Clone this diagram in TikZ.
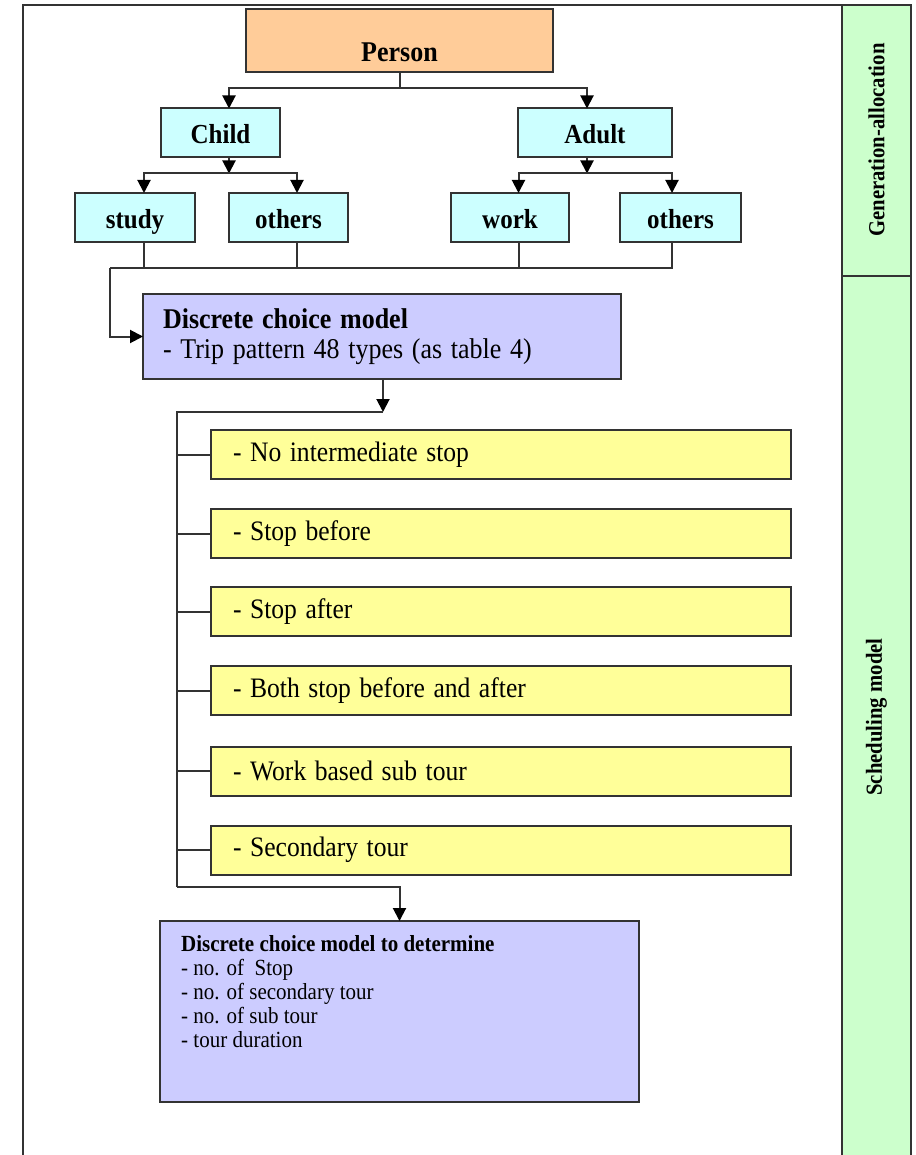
\documentclass[tikz,border=0pt]{standalone}
\usepackage{fontspec}
\setmainfont{Liberation Serif}
\usetikzlibrary{arrows.meta}
\definecolor{peach}{HTML}{FFCC99}
\definecolor{aqua}{HTML}{CCFFFF}
\definecolor{lilac}{HTML}{CCCCFF}
\definecolor{lemon}{HTML}{FFFF99}
\definecolor{mint}{HTML}{CCFFCC}
\definecolor{edge}{HTML}{333333}
% slightly taller type, as in the printed chart
\newcommand{\tallbox}[1]{\scalebox{1}[1.1]{#1}}
\begin{document}
\begin{tikzpicture}[x=1pt,y=-1pt,
  box/.style={draw=edge,line width=2pt,inner sep=0pt,outer sep=0pt},
  cat/.style={box,fill=aqua,minimum height=49pt,text height=23pt,text depth=1pt,
    font=\fontsize{25}{28}\selectfont\bfseries},
  pattern/.style={box,fill=lemon,minimum width=580pt,minimum height=49pt,
    text width=536pt,align=left,font=\fontsize{25.6}{28}\selectfont},
  ln/.style={draw=edge,line width=2pt},
  arr/.style={ln,-{Triangle[length=13pt,width=13pt,fill=black,color=black]}},
  side/.style={rotate=90,font=\fontsize{23}{26}\selectfont\bfseries}
]
\useasboundingbox (0,0) rectangle (915,1155);

% outer frame and the side band
\fill[mint] (842,5) rectangle (911,1155);
\draw[ln] (23,1155) -- (23,5) -- (842,5);
\draw[ln] (842,1155) -- (842,5) -- (911,5) -- (911,1155);
\draw[ln] (842,276) -- (911,276);
\node[side] (genlab) at (876.5,140) {\scalebox{0.9}[1]{Generation-allocation}};
\node[side] (schedlab) at (876.5,717) {\scalebox{0.9}[1]{Scheduling model}};

% person and its categories
\node[box,fill=peach,minimum width=307pt,minimum height=63pt] (person) at (399.5,40.5) {};
\node[font=\fontsize{26}{28}\selectfont\bfseries] (personlab) at (399.5,52.5) {\tallbox{Person}};
\node[cat,minimum width=119pt] (child) at (220.5,133) {\tallbox{Child}};
\node[cat,minimum width=154pt] (adult) at (595,133) {\tallbox{Adult}};
\node[cat,minimum width=120pt] (study) at (135,217.5) {\tallbox{study}};
\node[cat,minimum width=119pt] (otherc) at (288.5,217.5) {\tallbox{others}};
\node[cat,minimum width=118pt] (work) at (510,217.5) {\tallbox{work}};
\node[cat,minimum width=121pt] (othera) at (680.5,217.5) {\tallbox{others}};

% trip pattern model
\node[box,fill=lilac,minimum width=478pt,minimum height=85pt,text width=438pt,align=left,
  font=\fontsize{26}{30}\selectfont] (dcm) at (382,336.5)
  {\tallbox{\textbf{Discrete choice model}}\\\tallbox{- Trip pattern 48 types (as table 4)}};

\node[pattern] (y1) at (501,454.5) {\tallbox{- No intermediate stop}};
\node[pattern] (y2) at (501,533.5) {\tallbox{- Stop before}};
\node[pattern] (y3) at (501,611.5) {\tallbox{- Stop after}};
\node[pattern] (y4) at (501,690.5) {\tallbox{- Both stop before and after}};
\node[pattern] (y5) at (501,771) {\tallbox{- Work based sub tour}};
\node[pattern] (y6) at (501,850) {\tallbox{- Secondary tour}};

% final model
\node[box,fill=lilac,minimum width=479pt,minimum height=181pt] (final) at (399.5,1011.5) {};
\node[anchor=north west,inner sep=0pt,align=left,font=\fontsize{21}{24}\selectfont]
  (finaltxt) at (181,935)
  {\tallbox{\textbf{Discrete choice model to determine}}\\\tallbox{- no. of \ Stop}\\
   \tallbox{- no. of secondary tour}\\\tallbox{- no. of sub tour}\\\tallbox{- tour duration}};

% connectors
\draw[ln] (person.south) -- ++(0,16) coordinate (pj);
\draw[arr] (pj) -| ([xshift=8.5pt]child.north);
\draw[arr] (pj) -| ([xshift=-8pt]adult.north);

\draw[arr] ([xshift=8.5pt]child.south) -- ++(0,16) coordinate (cj);
\draw[arr] (cj) -| ([xshift=9pt]study.north);
\draw[arr] (cj) -| ([xshift=8.5pt]otherc.north);

\draw[arr] ([xshift=-8pt]adult.south) -- ++(0,16) coordinate (aj);
\draw[arr] (aj) -| ([xshift=8.5pt]work.north);
\draw[arr] (aj) -| ([xshift=-8.5pt]othera.north);

\coordinate (busL) at (110,268);
\draw[ln] ([xshift=9pt]study.south) -- ++(0,26);
\draw[ln] ([xshift=8.5pt]otherc.south) -- ++(0,26);
\draw[ln] ([xshift=8.5pt]work.south) -- ++(0,26);
\draw[ln] ([xshift=-8.5pt]othera.south) |- (busL);
\draw[arr] (busL) |- (dcm.west);

\coordinate (spineBot) at (177,887);
\draw[arr] ([xshift=1pt]dcm.south) -- ++(0,33) coordinate (dj);
\draw[ln] (dj) -| (spineBot);
\foreach \i in {1,...,6} \draw[ln] (y\i.west) -- (y\i.west -| spineBot);
\draw[arr] (spineBot) -| (final.north);
\end{tikzpicture}
\end{document}
